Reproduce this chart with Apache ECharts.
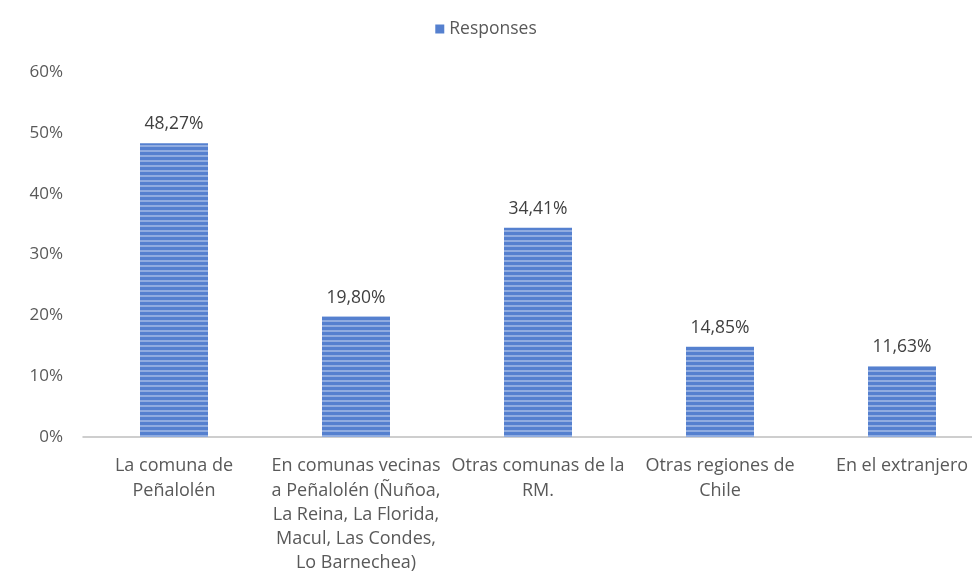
<!DOCTYPE html>
<html>
<head>
<meta charset="utf-8">
<script src="https://cdn.jsdelivr.net/npm/echarts@6/dist/echarts.min.js"></script>
<style>
  html, body { margin: 0; padding: 0; background: #fff; }
  #main { width: 972px; height: 579px; }
</style>
</head>
<body>
<div id="main"></div>
<script>
var categories = [
    'La comuna de\nPeñalolén',
    'En comunas vecinas\na Peñalolén (Ñuñoa,\nLa Reina, La Florida,\nMacul, Las Condes,\nLo Barnechea)',
    'Otras comunas de la\nRM.',
    'Otras regiones de\nChile',
    'En el extranjero'
];
var responses = [48.27, 19.80, 34.41, 14.85, 11.63];

var chart = echarts.init(document.getElementById('main'));
var font = '"Open Sans", Lato, sans-serif';

var option = {
    animation: false,
    aria: { enabled: true, decal: { show: true } },
    legend: {
        top: 15,
        left: 'center',
        icon: 'rect',
        itemWidth: 9,
        itemHeight: 9,
        itemGap: 6,
        textStyle: { color: '#595959', fontSize: 17.5, fontFamily: font },
        itemStyle: { decal: 'none' },
        data: ['Responses']
    },
    grid: {
        left: 83, top: 72, width: 910, height: 365,
        containLabel: false,
        outerBoundsMode: 'none'
    },
    xAxis: {
        type: 'category',
        data: categories,
        axisLine: { lineStyle: { color: '#bfbfbf', width: 1.5 } },
        axisTick: { show: false },
        axisLabel: {
            interval: 0,
            color: '#595959',
            fontSize: 18,
            fontFamily: font,
            lineHeight: 24.3,
            margin: 17
        }
    },
    yAxis: {
        type: 'value',
        min: 0,
        max: 60,
        interval: 10,
        splitLine: { show: false },
        axisLine: { show: false },
        axisTick: { show: false },
        axisLabel: {
            formatter: '{value}%',
            color: '#595959',
            fontSize: 17,
            fontFamily: font,
            margin: 20
        }
    },
    series: [{
        name: 'Responses',
        type: 'bar',
        data: responses,
        barWidth: 68,
        itemStyle: {
            color: '#5580cf',
            decal: {
                symbol: 'rect',
                dashArrayX: [1, 0],
                dashArrayY: [2, 3],
                rotation: 0,
                color: 'rgba(255,255,255,0.35)'
            }
        },
        label: {
            show: true,
            position: 'top',
            distance: 10,
            color: '#404040',
            fontSize: 17.5,
            fontFamily: font,
            formatter: function (p) {
                return p.value.toFixed(2).replace('.', ',') + '%';
            }
        }
    }]
};
chart.setOption(option);
</script>
</body>
</html>
